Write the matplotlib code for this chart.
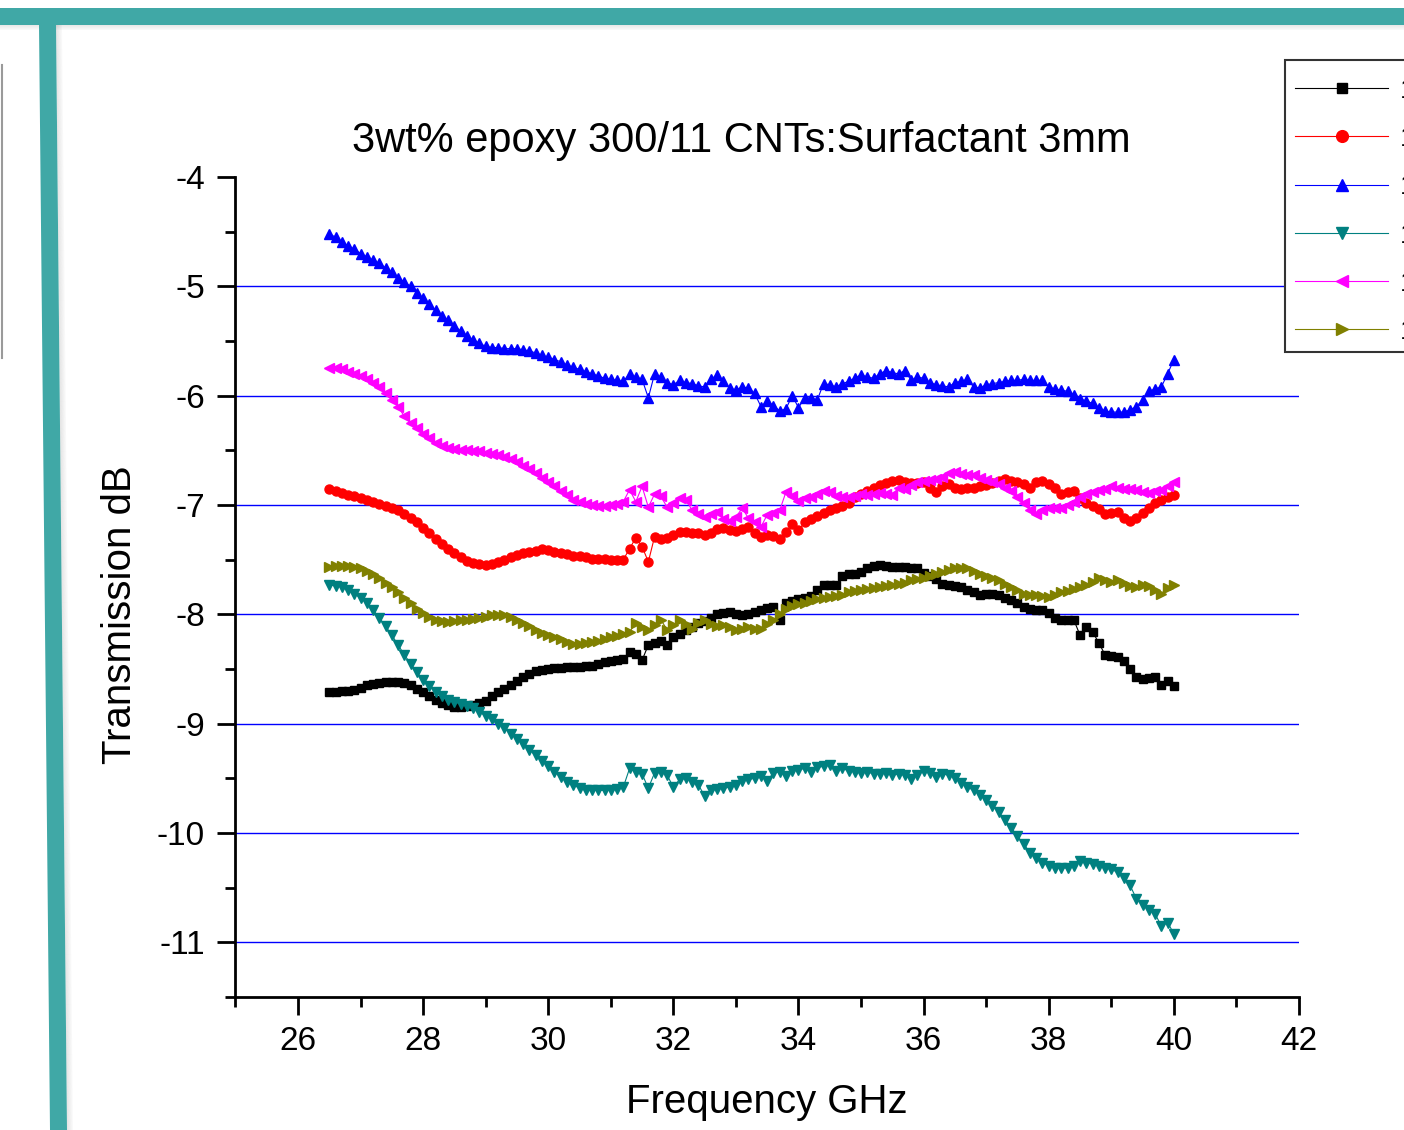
import matplotlib.pyplot as plt
import numpy as np
from matplotlib.patches import Polygon, Rectangle
from matplotlib.lines import Line2D

plt.rcParams['font.family'] = ['Liberation Sans', 'DejaVu Sans']

# frequency sweep 26.5 - 40 GHz
freq = np.round(np.arange(26.5, 40.001, 0.1), 1)

s_black = [
    -8.71, -8.71, -8.70, -8.70, -8.69, -8.67, -8.65, -8.64, -8.63, -8.62,
    -8.62, -8.62, -8.63, -8.65, -8.68, -8.71, -8.75, -8.78, -8.81, -8.83,
    -8.85, -8.85, -8.84, -8.83, -8.81, -8.79, -8.75, -8.71, -8.68, -8.65,
    -8.61, -8.57, -8.55, -8.52, -8.51, -8.50, -8.49, -8.49, -8.48, -8.48,
    -8.48, -8.47, -8.47, -8.45, -8.44, -8.43, -8.42, -8.41, -8.34, -8.36,
    -8.42, -8.28, -8.26, -8.24, -8.28, -8.21, -8.18, -8.14, -8.12, -8.08,
    -8.06, -8.03, -8.00, -7.99, -7.98, -8.00, -8.01, -8.00, -7.98, -7.96,
    -7.94, -7.93, -8.05, -7.90, -7.88, -7.86, -7.85, -7.83, -7.78, -7.73,
    -7.73, -7.73, -7.65, -7.63, -7.63, -7.61, -7.58, -7.56, -7.55, -7.56,
    -7.57, -7.57, -7.57, -7.58, -7.58, -7.62, -7.65, -7.68, -7.72, -7.73,
    -7.74, -7.75, -7.78, -7.80, -7.82, -7.81, -7.81, -7.82, -7.85, -7.87,
    -7.90, -7.93, -7.95, -7.96, -7.96, -7.99, -8.03, -8.05, -8.05, -8.05,
    -8.19, -8.12, -8.16, -8.26, -8.37, -8.38, -8.39, -8.43, -8.50, -8.57,
    -8.59, -8.58, -8.57, -8.65, -8.61, -8.66]

s_red = [
    -6.85, -6.87, -6.89, -6.91, -6.92, -6.94, -6.95, -6.97, -6.99, -7.01,
    -7.03, -7.05, -7.08, -7.12, -7.16, -7.21, -7.26, -7.31, -7.36, -7.40,
    -7.44, -7.48, -7.51, -7.53, -7.54, -7.55, -7.54, -7.52, -7.50, -7.48,
    -7.46, -7.44, -7.43, -7.42, -7.40, -7.41, -7.43, -7.44, -7.45, -7.47,
    -7.47, -7.48, -7.49, -7.49, -7.49, -7.50, -7.50, -7.50, -7.40, -7.30,
    -7.38, -7.52, -7.29, -7.31, -7.30, -7.27, -7.25, -7.25, -7.26, -7.26,
    -7.27, -7.26, -7.22, -7.21, -7.23, -7.24, -7.22, -7.20, -7.26, -7.29,
    -7.27, -7.28, -7.31, -7.25, -7.17, -7.23, -7.16, -7.13, -7.10, -7.07,
    -7.05, -7.03, -7.01, -6.98, -6.93, -6.90, -6.87, -6.84, -6.82, -6.80,
    -6.78, -6.77, -6.79, -6.80, -6.80, -6.79, -6.84, -6.88, -6.83, -6.81,
    -6.84, -6.85, -6.84, -6.84, -6.83, -6.82, -6.80, -6.78, -6.76, -6.78,
    -6.79, -6.81, -6.84, -6.79, -6.78, -6.81, -6.84, -6.90, -6.88, -6.87,
    -6.94, -6.98, -7.01, -7.04, -7.08, -7.07, -7.06, -7.12, -7.15, -7.12,
    -7.07, -7.03, -6.98, -6.95, -6.93, -6.91]

s_blue = [
    -4.52, -4.55, -4.59, -4.63, -4.66, -4.70, -4.73, -4.76, -4.79, -4.83,
    -4.87, -4.92, -4.96, -5.00, -5.06, -5.11, -5.16, -5.22, -5.27, -5.31,
    -5.36, -5.41, -5.45, -5.49, -5.52, -5.55, -5.56, -5.56, -5.57, -5.57,
    -5.57, -5.58, -5.59, -5.61, -5.63, -5.65, -5.67, -5.69, -5.72, -5.74,
    -5.76, -5.78, -5.80, -5.82, -5.84, -5.85, -5.86, -5.87, -5.80, -5.83,
    -5.85, -6.02, -5.80, -5.83, -5.88, -5.90, -5.86, -5.88, -5.89, -5.91,
    -5.92, -5.85, -5.81, -5.87, -5.93, -5.95, -5.92, -5.93, -5.98, -6.10,
    -6.05, -6.09, -6.14, -6.12, -6.00, -6.11, -6.02, -6.02, -6.04, -5.89,
    -5.90, -5.92, -5.89, -5.87, -5.84, -5.81, -5.83, -5.84, -5.80, -5.77,
    -5.79, -5.80, -5.77, -5.86, -5.83, -5.84, -5.88, -5.90, -5.91, -5.92,
    -5.88, -5.87, -5.85, -5.92, -5.93, -5.90, -5.89, -5.88, -5.87, -5.86,
    -5.86, -5.85, -5.86, -5.86, -5.86, -5.92, -5.94, -5.95, -5.96, -5.99,
    -6.03, -6.05, -6.07, -6.11, -6.14, -6.15, -6.15, -6.15, -6.13, -6.10,
    -6.04, -5.96, -5.94, -5.92, -5.80, -5.67]

s_teal = [
    -7.73, -7.74, -7.75, -7.78, -7.81, -7.85, -7.90, -7.96, -8.03, -8.11,
    -8.19, -8.28, -8.37, -8.45, -8.53, -8.60, -8.66, -8.71, -8.75, -8.78,
    -8.80, -8.82, -8.84, -8.86, -8.89, -8.93, -8.96, -9.00, -9.04, -9.09,
    -9.14, -9.19, -9.24, -9.29, -9.34, -9.39, -9.44, -9.49, -9.53, -9.56,
    -9.59, -9.61, -9.61, -9.61, -9.61, -9.61, -9.60, -9.58, -9.41, -9.44,
    -9.46, -9.59, -9.45, -9.44, -9.47, -9.58, -9.51, -9.50, -9.53, -9.56,
    -9.66, -9.61, -9.60, -9.59, -9.58, -9.56, -9.52, -9.51, -9.50, -9.48,
    -9.52, -9.45, -9.44, -9.48, -9.43, -9.42, -9.41, -9.44, -9.40, -9.39,
    -9.38, -9.43, -9.41, -9.43, -9.44, -9.45, -9.44, -9.46, -9.46, -9.45,
    -9.47, -9.46, -9.47, -9.51, -9.47, -9.43, -9.45, -9.49, -9.46, -9.47,
    -9.50, -9.54, -9.58, -9.61, -9.65, -9.70, -9.75, -9.81, -9.88, -9.95,
    -10.03, -10.10, -10.18, -10.23, -10.27, -10.30, -10.32, -10.32, -10.32, -10.30,
    -10.26, -10.27, -10.28, -10.30, -10.32, -10.33, -10.36, -10.41, -10.48, -10.60,
    -10.66, -10.70, -10.74, -10.85, -10.82, -10.92]

s_magenta = [
    -5.75, -5.75, -5.76, -5.78, -5.80, -5.82, -5.85, -5.88, -5.92, -5.98,
    -6.04, -6.10, -6.19, -6.25, -6.30, -6.35, -6.39, -6.43, -6.46, -6.48,
    -6.49, -6.50, -6.50, -6.51, -6.51, -6.52, -6.53, -6.54, -6.56, -6.58,
    -6.61, -6.64, -6.67, -6.71, -6.75, -6.79, -6.83, -6.87, -6.91, -6.95,
    -6.97, -6.99, -7.00, -7.01, -7.01, -7.00, -6.99, -6.97, -6.86, -6.97,
    -6.83, -7.02, -6.90, -6.92, -7.02, -6.98, -6.94, -6.95, -7.05, -7.08,
    -7.11, -7.08, -7.06, -7.13, -7.15, -7.11, -7.03, -7.12, -7.16, -7.20,
    -7.09, -7.07, -7.05, -6.88, -6.92, -6.96, -6.94, -6.93, -6.90, -6.87,
    -6.88, -6.92, -6.93, -6.93, -6.92, -6.90, -6.91, -6.90, -6.89, -6.90,
    -6.91, -6.84, -6.85, -6.82, -6.79, -6.78, -6.77, -6.76, -6.74, -6.71,
    -6.70, -6.72, -6.73, -6.73, -6.75, -6.77, -6.79, -6.81, -6.84, -6.87,
    -6.93, -6.98, -7.05, -7.08, -7.05, -7.03, -7.03, -7.03, -7.00, -6.97,
    -6.93, -6.90, -6.88, -6.86, -6.85, -6.83, -6.84, -6.85, -6.85, -6.86,
    -6.88, -6.89, -6.87, -6.86, -6.83, -6.79]

s_olive = [
    -7.57, -7.56, -7.56, -7.56, -7.57, -7.58, -7.60, -7.63, -7.67, -7.71,
    -7.75, -7.80, -7.85, -7.90, -7.95, -7.99, -8.02, -8.05, -8.06, -8.07,
    -8.06, -8.05, -8.05, -8.04, -8.03, -8.02, -8.01, -8.01, -8.01, -8.02,
    -8.05, -8.08, -8.11, -8.14, -8.17, -8.19, -8.21, -8.23, -8.25, -8.27,
    -8.27, -8.26, -8.25, -8.24, -8.23, -8.21, -8.20, -8.18, -8.16, -8.08,
    -8.12, -8.14, -8.10, -8.05, -8.14, -8.10, -8.05, -8.09, -8.13, -8.08,
    -8.05, -8.09, -8.11, -8.10, -8.12, -8.14, -8.13, -8.12, -8.13, -8.13,
    -8.09, -8.05, -8.00, -7.95, -7.92, -7.91, -7.90, -7.88, -7.86, -7.85,
    -7.84, -7.83, -7.82, -7.80, -7.79, -7.78, -7.77, -7.76, -7.75, -7.74,
    -7.73, -7.72, -7.71, -7.69, -7.68, -7.67, -7.65, -7.63, -7.61, -7.59,
    -7.58, -7.58, -7.58, -7.60, -7.63, -7.65, -7.67, -7.69, -7.72, -7.75,
    -7.78, -7.81, -7.82, -7.82, -7.83, -7.84, -7.82, -7.80, -7.79, -7.77,
    -7.75, -7.73, -7.70, -7.67, -7.69, -7.70, -7.69, -7.71, -7.74, -7.75,
    -7.73, -7.74, -7.78, -7.81, -7.76, -7.73]

# legend text is cut off at the right edge of the source image
labels = ['1-1', '1-2', '1-3', '1-4', '1-5', '1-6']
series = [s_black, s_red, s_blue, s_teal, s_magenta, s_olive]
colors = ['#000000', '#ff0000', '#0000ff', '#008080', '#ff00ff', '#808000']
markers = ['s', 'o', '^', 'v', '<', '>']
msizes = [5.5, 6.5, 7, 7, 7, 7]

x_major = [26, 28, 30, 32, 34, 36, 38, 40, 42]
y_major = [-4, -5, -6, -7, -8, -9, -10, -11]

W, H = 1404, 1130
fig = plt.figure(figsize=(W / 100, H / 100), dpi=100)

# slide decoration: teal bars with soft shadow
for k in range(6):
    fig.patches.append(Rectangle((0, 1 - (25 + k) / H), 1, 1 / H,
                                 transform=fig.transFigure,
                                 color='black', alpha=0.10 - 0.015 * k, lw=0))
    fig.patches.append(Polygon([((56 + k) / W, 1 - 24 / H), ((57 + k) / W, 1 - 24 / H),
                                ((68 + k) / W, 0), ((67 + k) / W, 0)],
                               closed=True, transform=fig.transFigure,
                               color='black', alpha=0.10 - 0.015 * k, lw=0))
fig.patches.append(Rectangle((0, 1 - 25 / H), 1, 17 / H, transform=fig.transFigure,
                             color='#40a8a6', lw=0))
fig.patches.append(Polygon([(39 / W, 1 - 24 / H), (56 / W, 1 - 24 / H),
                            (67 / W, 0), (50 / W, 0)],
                           closed=True, transform=fig.transFigure,
                           color='#40a8a6', lw=0))
fig.lines.append(Line2D([1.5 / W, 1.5 / W], [1 - 65 / H, 1 - 358 / H],
                        transform=fig.transFigure, color='#9a9a9a', lw=1.5))

# legend frame (runs off the right edge like in the source)
fig.patches.append(Rectangle((1285 / W, 1 - 352 / H), 140 / W, 292 / H,
                             transform=fig.transFigure, facecolor='white',
                             edgecolor='#333333', lw=1.5))

ax = fig.add_axes([235.4 / W, 1 - 997 / H, (1299 - 235.4) / W, (997 - 177) / H])

for yv in y_major[1:]:
    ax.axhline(yv, color='#0000ff', lw=1.0, zorder=1)

handles = []
for s, c, m, ms, lab in zip(series, colors, markers, msizes, labels):
    h, = ax.plot(freq, s, color=c, marker=m, markersize=ms, markeredgecolor=c,
                 markerfacecolor=c, lw=0.8, label=lab, zorder=3)
    handles.append(h)

ax.set_xlim(25, 42)
ax.set_ylim(-11.5, -4)
ax.set_xticks(x_major)
ax.set_xticks([25, 27, 29, 31, 33, 35, 37, 39, 41], minor=True)
ax.set_yticks(y_major)
ax.set_yticks(np.array(y_major) - 0.5, minor=True)
ax.set_yticklabels([str(v) for v in y_major])

for side in ['top', 'right']:
    ax.spines[side].set_visible(False)
for side in ['left', 'bottom']:
    ax.spines[side].set_linewidth(2)
ax.tick_params(which='major', direction='out', length=13, width=2, labelsize=24)
ax.tick_params(which='minor', direction='out', length=7, width=2)
ax.tick_params(axis='x', which='major', pad=8)
ax.tick_params(axis='y', which='major', pad=9)

ax.set_xlabel('Frequency GHz', fontsize=29)
ax.xaxis.set_label_coords(0.5, -0.105)
ax.set_ylabel('Transmission dB', fontsize=29)
ax.yaxis.set_label_coords(-0.091, 0.466)

fig.text(741 / W, 1 - 152 / H, '3wt% epoxy 300/11 CNTs:Surfactant 3mm',
         ha='center', va='baseline', fontsize=30)

leg = fig.legend(handles=handles, loc='upper left',
                 bbox_to_anchor=(1295 / W, 1 - 78 / H), bbox_transform=fig.transFigure,
                 borderaxespad=0, frameon=False, fontsize=20, handlelength=3.35,
                 handletextpad=0.43, labelspacing=0.8, borderpad=0,
                 numpoints=1, markerscale=1.3)

fig.savefig('out.png', dpi=100)
